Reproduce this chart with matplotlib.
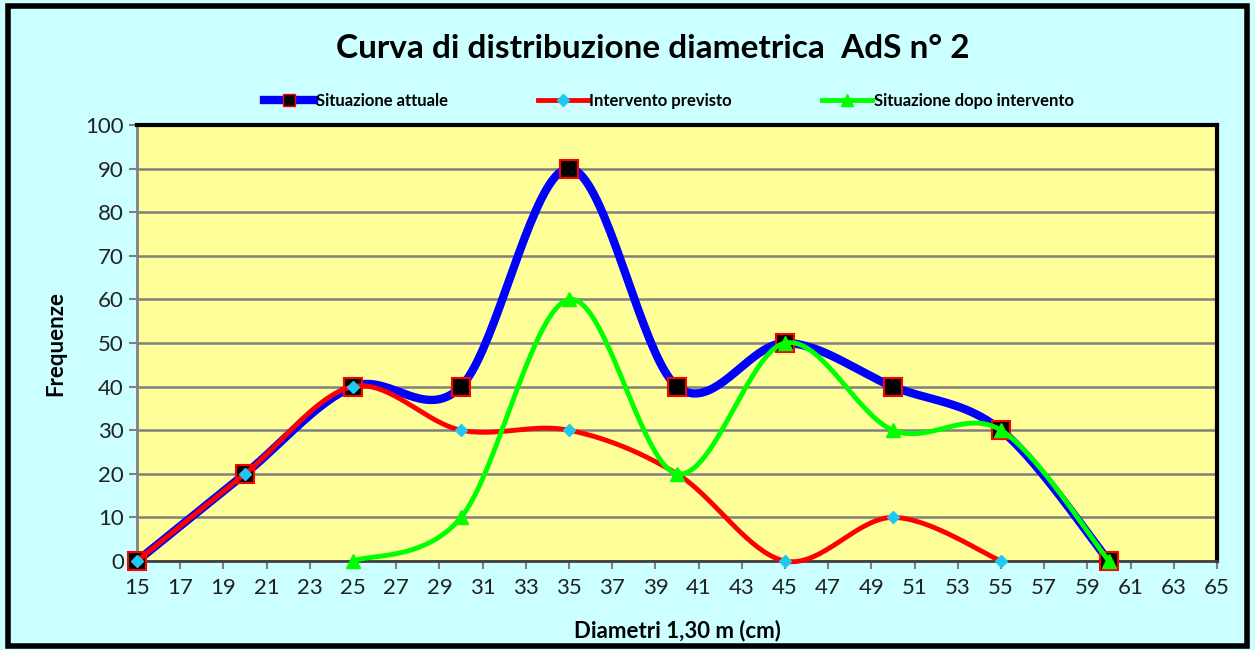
import numpy as np
import matplotlib
matplotlib.use("Agg")
import matplotlib.pyplot as plt
from matplotlib.lines import Line2D
from matplotlib.patches import Rectangle

# Dati (diametri in cm, frequenze)
diam_attuale = [15, 20, 25, 30, 35, 40, 45, 50, 55, 60]
freq_attuale = [0, 20, 40, 40, 90, 40, 50, 40, 30, 0]

diam_previsto = [15, 20, 25, 30, 35, 40, 45, 50, 55]
freq_previsto = [0, 20, 40, 30, 30, 20, 0, 10, 0]

diam_dopo = [25, 30, 35, 40, 45, 50, 55, 60]
freq_dopo = [0, 10, 60, 20, 50, 30, 30, 0]

x_ticks = list(range(15, 66, 2))
y_ticks = list(range(0, 101, 10))


def smooth(xs, ys, n=40):
    # curva "smussata" tipo Excel (Bezier / Catmull-Rom)
    p = np.column_stack([xs, ys]).astype(float)
    p = np.vstack([p[0], p, p[-1]])
    out = []
    for i in range(1, len(p) - 2):
        p0, p1, p2, p3 = p[i - 1], p[i], p[i + 1], p[i + 2]
        c1 = p1 + (p2 - p0) / 6
        c2 = p2 - (p3 - p1) / 6
        t = np.linspace(0, 1, n)[:, None]
        seg = ((1 - t) ** 3 * p1 + 3 * (1 - t) ** 2 * t * c1
               + 3 * (1 - t) * t ** 2 * c2 + t ** 3 * p2)
        out.append(seg if i == 1 else seg[1:])
    out = np.vstack(out)
    return out[:, 0], out[:, 1]


plt.rcParams["font.family"] = ["Lato", "DejaVu Sans"]

fig = plt.figure(figsize=(12.55, 6.5), dpi=100)
fig.patch.set_facecolor("#CCFFFF")
fig.patches.append(Rectangle((0.006, 0.006), 0.988, 0.985, transform=fig.transFigure,
                             fill=False, edgecolor="black", linewidth=4))

ax = fig.add_axes([0.1092, 0.1369, 0.8605, 0.6708])
ax.set_facecolor("#FFFF99")

col_blue = "#0000FF"
col_red = "#FF0000"
col_green = "#00FF00"
col_diam = "#1EC8F0"

xs, ys = smooth(diam_attuale, freq_attuale)
ax.plot(xs, ys, color=col_blue, lw=6, solid_capstyle="round", zorder=3, clip_on=False)
ax.plot(diam_attuale, freq_attuale, ls="none", marker="s", ms=13, mfc="black",
        mec=col_red, mew=1.5, zorder=4, clip_on=False)

xs, ys = smooth(diam_previsto, freq_previsto)
ax.plot(xs, ys, color=col_red, lw=3.5, zorder=5, clip_on=False)
ax.plot(diam_previsto, freq_previsto, ls="none", marker="D", ms=6, mfc=col_diam,
        mec=col_diam, zorder=6, clip_on=False)

xs, ys = smooth(diam_dopo, freq_dopo)
ax.plot(xs, ys, color=col_green, lw=3.5, zorder=7, clip_on=False)
ax.plot(diam_dopo, freq_dopo, ls="none", marker="^", ms=10, mfc=col_green,
        mec=col_green, zorder=8, clip_on=False)

ax.set_xlim(15, 65)
ax.set_ylim(0, 100)
ax.set_xticks(x_ticks)
ax.set_yticks(y_ticks)
ax.tick_params(axis="both", labelsize=16, color="#808080", length=6, width=1.5,
               direction="out", labelcolor="#222222")
ax.tick_params(axis="x", pad=6)
ax.yaxis.grid(True, color="#808080", lw=1.8)
ax.set_axisbelow(True)

for side in ("top", "right"):
    ax.spines[side].set_color("black")
    ax.spines[side].set_linewidth(3)
ax.spines["bottom"].set_color("#404040")
ax.spines["bottom"].set_linewidth(2)
ax.spines["left"].set_color("#808080")
ax.spines["left"].set_linewidth(2)

ax.set_xlabel("Diametri 1,30 m (cm)", fontsize=16, fontweight="bold", labelpad=16)
ax.set_ylabel("Frequenze", fontsize=16, fontweight="bold", labelpad=14)

fig.text(0.52, 0.925, "Curva di distribuzione diametrica  AdS n\u00b0 2",
         ha="center", va="center", fontsize=24, fontweight="bold")

handles = [
    Line2D([], [], color=col_blue, lw=6, marker="s", ms=9, mfc="black", mec=col_red),
    Line2D([], [], color=col_red, lw=3.5, marker="D", ms=6, mfc=col_diam, mec=col_diam),
    Line2D([], [], color=col_green, lw=3.5, marker="^", ms=9, mfc=col_green, mec=col_green),
]
labels = ["Situazione attuale", "Intervento previsto", "Situazione dopo intervento"]
fig.legend(handles, labels, loc="center", bbox_to_anchor=(0.533, 0.845), ncol=3,
           frameon=False, handlelength=3.0, handletextpad=0.1, columnspacing=5.4,
           prop={"size": 12, "weight": "bold"})

fig.savefig("out.png", dpi=100, facecolor=fig.get_facecolor())
